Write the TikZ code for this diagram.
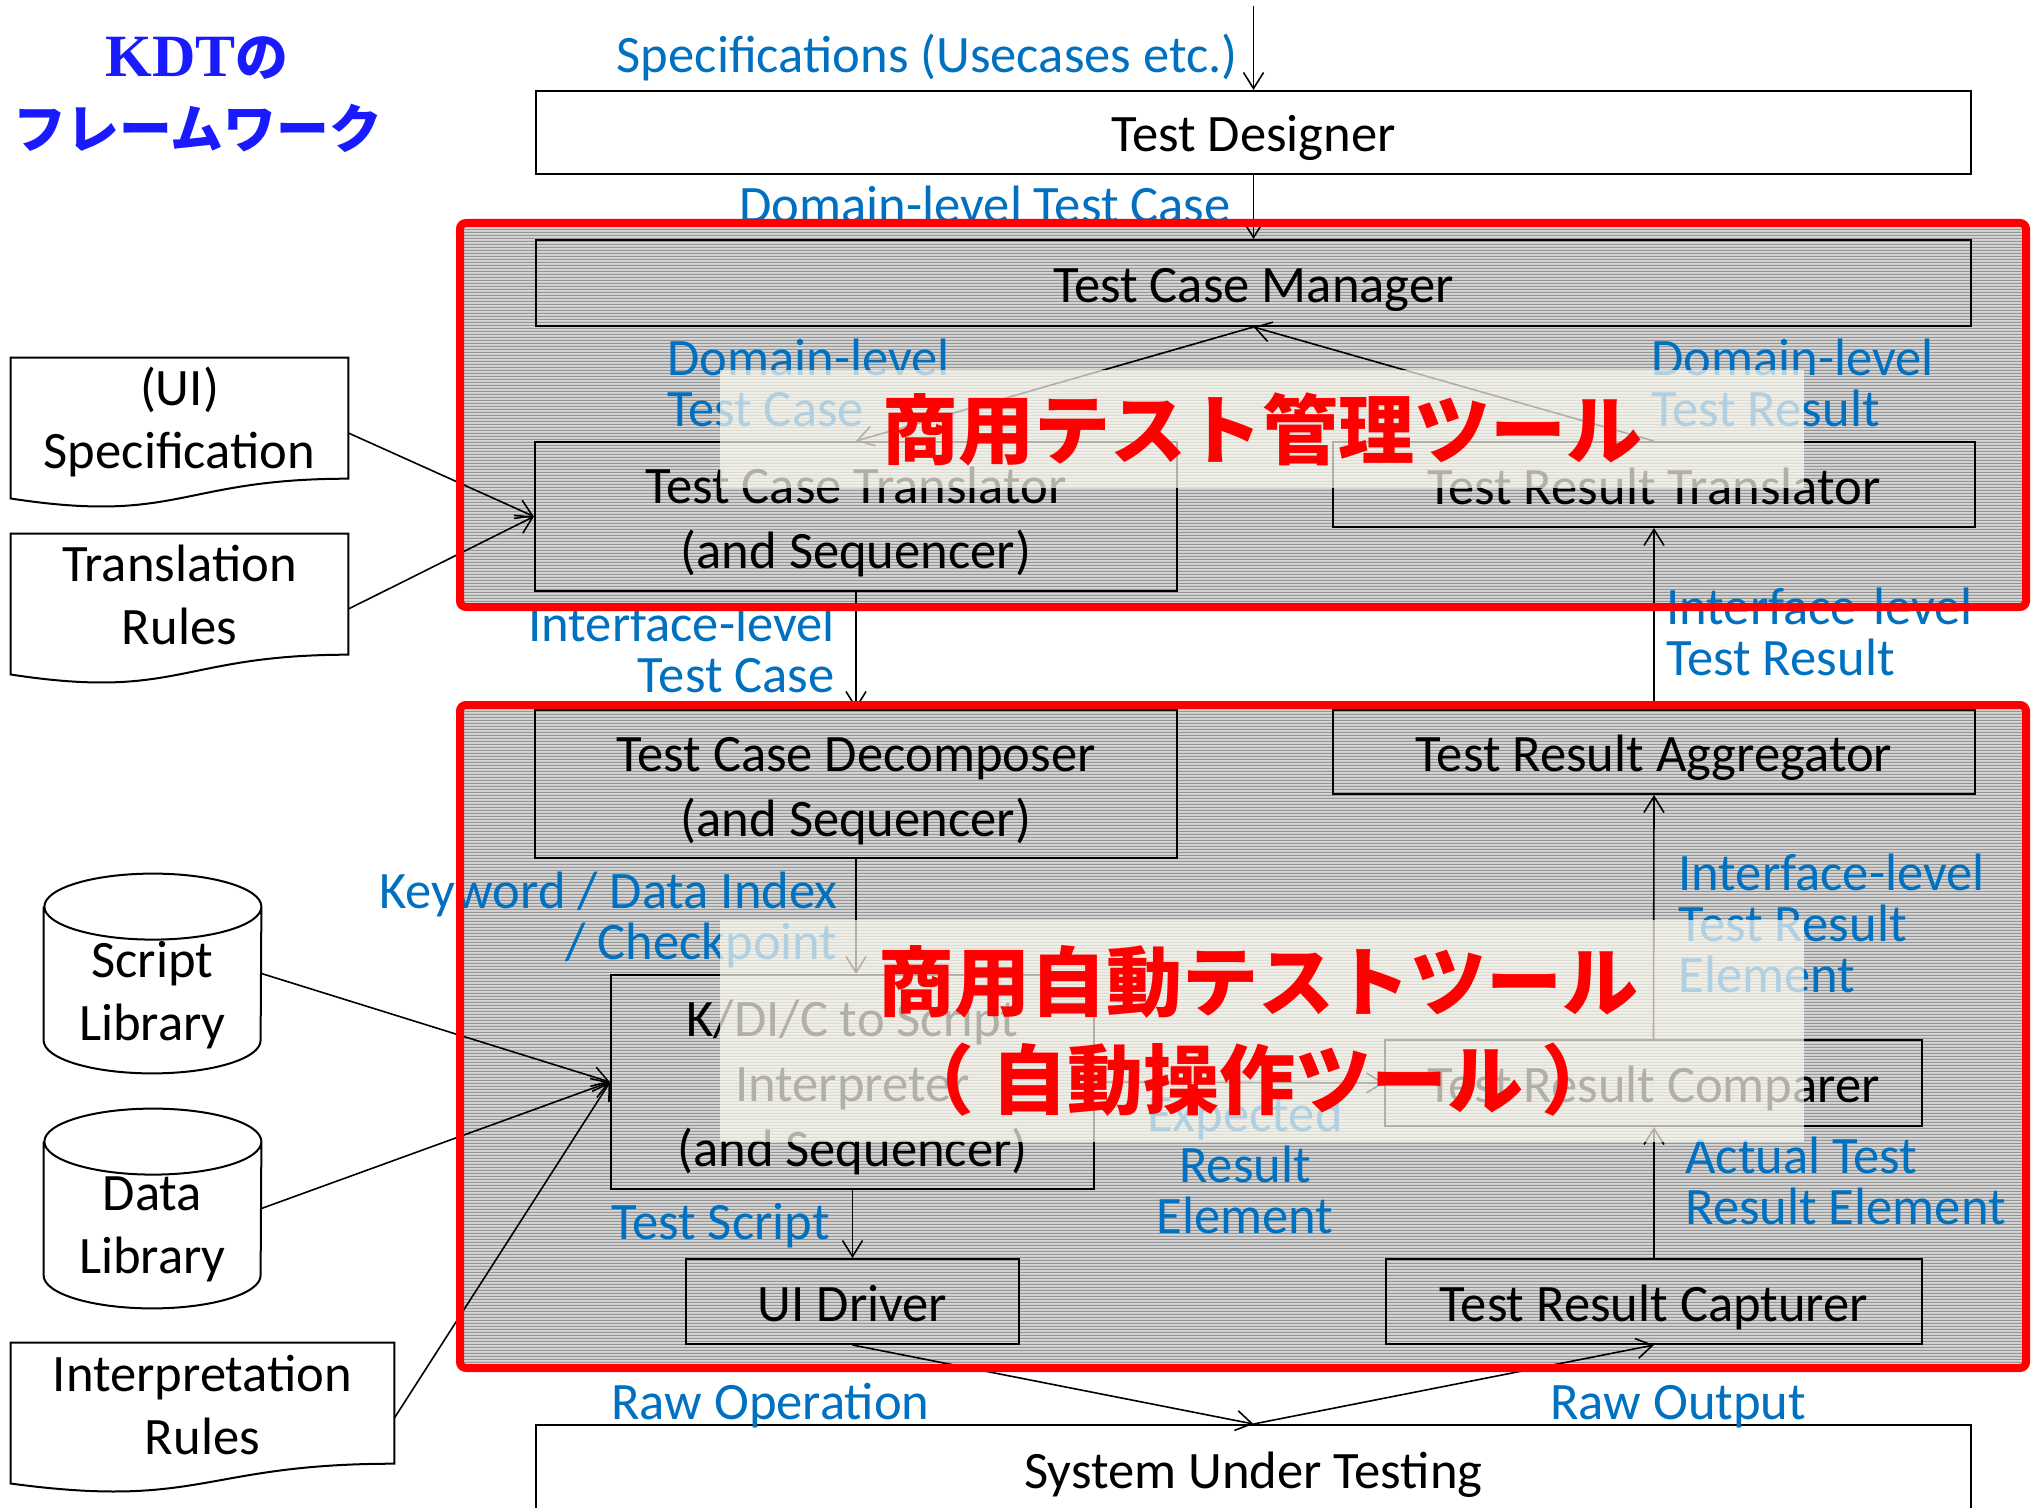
\documentclass[tikz,border=0pt]{standalone}
\usepackage{fontspec}
\setmainfont{Carlito}
\newfontfamily\cjkfont{Noto Sans CJK JP}
\newfontfamily\ttlserif{Liberation Serif}
\usetikzlibrary{arrows.meta,calc,patterns.meta}
\definecolor{lblue}{RGB}{0,112,192}
\definecolor{tblue}{RGB}{26,26,255}
\definecolor{frred}{RGB}{255,0,0}
\definecolor{frgray}{RGB}{214,214,214}
\definecolor{frline}{RGB}{150,150,150}
\definecolor{ovcol}{RGB}{252,250,240}
\pgfdeclarepattern{
  name=finestripes,
  type=uncolored,
  bottom left={\pgfpoint{0pt}{0pt}},
  top right={\pgfpoint{1.7pt}{1.7pt}},
  tile size={\pgfpoint{1.7pt}{1.7pt}},
  code={\pgfpathrectangle{\pgfpoint{0pt}{0pt}}{\pgfpoint{1.7pt}{0.6pt}}\pgfusepath{fill}}
}
\newcommand{\boxfs}{\fontsize{26.3pt}{32.5pt}\selectfont}
\newcommand{\lblfs}{\fontsize{26.3pt}{25.5pt}\selectfont}
\newcommand{\docfs}{\fontsize{26.3pt}{31.5pt}\selectfont}
\newcommand{\lowstrut}{\rule[-0.2\baselineskip]{0pt}{\baselineskip}}
\begin{document}
\begin{tikzpicture}[x=0.5pt,y=-0.5pt,
  box/.style={draw, line width=1pt, inner sep=0pt, align=center, font=\boxfs,
    execute at begin node=\lowstrut, execute at end node=\lowstrut},
  lbl/.style={text=lblue, inner sep=0pt, font=\lblfs,
    execute at begin node=\strut, execute at end node=\strut},
  dtxt/.style={inner sep=0pt, align=center, font=\docfs,
    execute at begin node=\strut, execute at end node=\strut},
  docbox/.style={inner sep=0pt, minimum height=75pt},
  cylbox/.style={inner sep=0pt, minimum width=108.5pt, minimum height=66.5pt},
  docline/.style={draw, line width=1pt, fill=white},
  conn/.style={line width=0.8pt, -{Straight Barb[length=8pt,width=10pt]}},
  frfill/.style={fill=frgray, postaction={pattern=finestripes, pattern color=frline}},
  frborder/.style={draw=frred, line width=4pt, rounded corners=3pt},
  ov/.style={fill=ovcol, fill opacity=0.7},
  ovtxt/.style={text=frred, inner sep=0pt, align=center,
    font=\cjkfont\bfseries\fontsize{38pt}{49pt}\selectfont}
]
\useasboundingbox (0,0) rectangle (2040,1508);
\fill[white] (0,0) rectangle (2040,1508);

% frame fills
\path[frfill] (460,223) rectangle (2026,607);
\path[frfill] (460,705) rectangle (2026,1368);

% process boxes
\node[box, minimum width=717.5pt, minimum height=41.5pt] (tdes) at (1253.5,132.5) {Test Designer};
\node[box, minimum width=717.5pt, minimum height=43pt] (tcm) at (1253.5,283) {Test Case Manager};
\node[box, minimum width=321pt, minimum height=74.5pt] (tct) at (856,516.5) {\lowstrut Test Case Translator\\(and Sequencer)\lowstrut};
\node[box, minimum width=321pt, minimum height=42.5pt] (trt) at (1654,484.5) {Test Result Translator};
\node[box, minimum width=321pt, minimum height=74pt] (tcd) at (856,784) {\lowstrut Test Case Decomposer\\(and Sequencer)\lowstrut};
\node[box, minimum width=321pt, minimum height=42pt] (tra) at (1654,752) {Test Result Aggregator};
\node[box, minimum width=241.5pt, minimum height=107pt] (kdi) at (852.5,1082) {\lowstrut K/DI/C to Script\\Interpreter\\(and Sequencer)\lowstrut};
\node[box, minimum width=268.5pt, minimum height=43pt] (trc) at (1653.5,1083) {Test Result Comparer};
\node[box, minimum width=166.5pt, minimum height=42.5pt] (uid) at (852.5,1301.5) {UI Driver};
\node[box, minimum width=268pt, minimum height=42.5pt] (cap) at (1654,1301.5) {Test Result Capturer};
\node[box, minimum width=717.5pt, minimum height=43.5pt] (sut) at (1253.5,1468.5) {System Under Testing};

% documents and libraries
\node[docbox, minimum width=168.5pt] (uispec) at (179.5,433) {};
\node[docbox, minimum width=168.5pt] (trules) at (179.5,609) {};
\node[docbox, minimum width=191.5pt] (irules) at (202.5,1418) {};
\node[cylbox] (slib) at (152.5,973.5) {};
\node[cylbox] (dlib) at (152.5,1208.5) {};
\foreach \d in {uispec,trules,irules}{
  \draw[docline] (\d.north west) -- (\d.north east) -- ([yshift=14.85pt]\d.south east)
    .. controls ([yshift=14.85pt]\d.south) and ([yshift=-8.06pt]\d.south) .. ([yshift=4.95pt]\d.south west) -- cycle;}
\foreach \c in {slib,dlib}{
  \draw[docline] (\c.north west) -- (\c.south west)
    arc[start angle=180,end angle=360,x radius=54.25pt,y radius=16.5pt] -- (\c.north east)
    arc[start angle=0,end angle=360,x radius=54.25pt,y radius=16.5pt];}
\node[dtxt] (uispec-t) at (179.5,427) {(UI)\\Specification};
\node[dtxt] (trules-t) at (179.5,604) {Translation\\Rules};
\node[dtxt] (irules-t) at (202.5,1414) {Interpretation\\Rules};
\node[dtxt] (slib-t) at (152.5,1000) {Script\\Library};
\node[dtxt] (dlib-t) at (152.5,1235) {Data\\Library};

% connectors
\coordinate (topin) at (1253.5,6);
\draw[conn] (topin) -- (tdes.north);
\draw[conn] (tdes.south) -- (tcm.north);
\draw[conn] (tcm.south) -- (tct.north);
\draw[conn] (trt.north) -- (tcm.south);
\draw[conn] (tct.south) -- (tcd.north);
\draw[conn] (tra.north) -- (trt.south);
\draw[conn] (tcd.south) -- (tcd.south |- kdi.north);
\draw[conn] (kdi.south) -- (uid.north);
\draw[conn] (uid.south) -- (sut.north);
\draw[conn] (sut.north) -- (cap.south);
\draw[conn] (cap.north) -- (cap.north |- trc.south);
\draw[conn] (trc.north) -- (tra.south);
\draw[conn] (kdi.east) -- (trc.west);
\draw[conn] (uispec.east) -- (tct.west);
\draw[conn] (trules.east) -- (tct.west);
\draw[conn] (slib.east) -- (kdi.west);
\draw[conn] (dlib.east) -- (kdi.west);
\draw[conn] (irules.east) -- (kdi.west);

% labels
\node[lbl, anchor=east] (l-spec) at (1238,61) {Specifications (Usecases etc.)};
\node[lbl, anchor=east] (l-dtc0) at (1231,212) {Domain-level Test Case};
\node[lbl, anchor=north west, align=left] (l-dtc) at (667,339) {Domain-level\\Test Case};
\node[lbl, anchor=north west, align=left] (l-dtr) at (1651,339) {Domain-level\\Test Result};
\node[lbl, anchor=north east, align=right] (l-itc) at (835,605) {Interface-level\\Test Case};
\node[lbl, anchor=north west, align=left] (l-itr) at (1666,588) {Interface-level\\Test Result};
\node[lbl, anchor=north east, align=right] (l-kw) at (838,872) {Keyword / Data Index\\/ Checkpoint};
\node[lbl, anchor=north west, align=left] (l-itre) at (1678,854) {Interface-level\\Test Result\\Element};
\node[lbl, anchor=north, align=center] (l-exp) at (1245,1095) {Expected\\Result\\Element};
\node[lbl, anchor=north west, align=left] (l-act) at (1685,1137) {Actual Test\\Result Element};
\node[lbl, anchor=west] (l-ts) at (611,1229) {Test Script};
\node[lbl, anchor=west] (l-rop) at (611,1409) {Raw Operation};
\node[lbl, anchor=west] (l-rout) at (1550,1409) {Raw Output};

% red frames
\draw[frborder] (460,223) rectangle (2026,607);
\draw[frborder] (460,705) rectangle (2026,1368);

% overlays
\path[ov] (720,370) rectangle (1804,488);
\path[ov] (720,920) rectangle (1804,1142);
\node[ovtxt] (ov1t) at (1262,429) {商用テスト管理ツール};
\node[ovtxt] (ov2t) at (1258,1031) {商用自動テストツール\\（\hspace{9pt}自動操作ツール\hspace{9pt}）};

% title
\node[inner sep=0pt, text=tblue, font=\ttlserif\bfseries\fontsize{30pt}{30pt}\selectfont] (ttl1) at (197,58) {KDT{\cjkfont\fontsize{26.4pt}{30pt}\selectfont の}};
\node[inner sep=0pt, text=tblue, font=\cjkfont\bfseries\fontsize{26.4pt}{30pt}\selectfont] (ttl2) at (198,128) {フレームワーク};
\end{tikzpicture}
\end{document}
